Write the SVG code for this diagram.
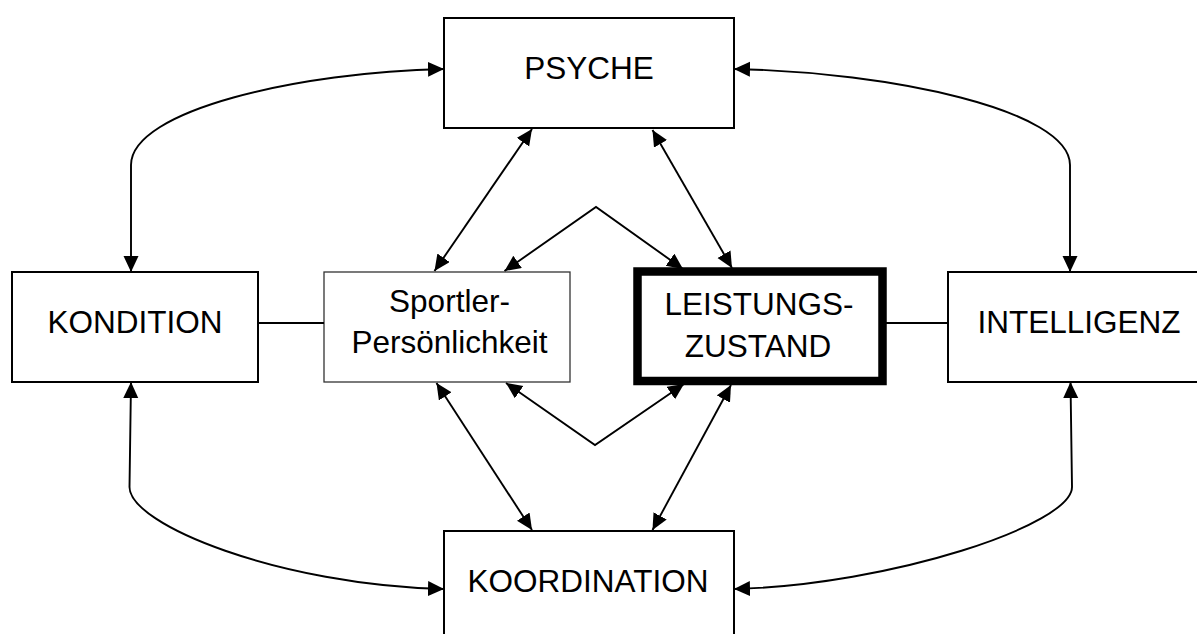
<svg xmlns="http://www.w3.org/2000/svg" width="1197" height="634" viewBox="0 0 1197 634">
  <style>
    .box { fill: #fff; stroke: #000; stroke-width: 2; }
    .thin { fill: #fff; stroke: #333; stroke-width: 1.3; }
    .bold { fill: #fff; stroke: #000; stroke-width: 8.5; }
    .lbl { font-family: "Liberation Sans", Arial, sans-serif; font-size: 31.5px; fill: #000; text-anchor: middle; }
    .link { fill: none; stroke: #000; stroke-width: 1.9; }
    .arr { marker-start: url(#head); marker-end: url(#head); }
  </style>
  <defs>
    <marker id="head" markerUnits="userSpaceOnUse" markerWidth="17" markerHeight="16" refX="16" refY="7.5" orient="auto-start-reverse">
      <path d="M0,0 L16,7.5 L0,15 z" fill="#000"/>
    </marker>
  </defs>

  <g id="psyche">
    <rect class="box" x="444" y="18" width="290" height="110"/>
    <text class="lbl" x="589" y="79">PSYCHE</text>
  </g>
  <g id="kondition">
    <rect class="box" x="12" y="272" width="246" height="110"/>
    <text class="lbl" x="135" y="333">KONDITION</text>
  </g>
  <g id="sportler">
    <rect class="thin" x="324" y="272" width="246" height="110"/>
    <text class="lbl" x="449.5" y="311.5">Sportler-</text>
    <text class="lbl" x="449.5" y="353">Persönlichkeit</text>
  </g>
  <g id="leistungszustand">
    <rect class="bold" x="637.5" y="271.5" width="245" height="109.5"/>
    <text class="lbl" x="759" y="315">LEISTUNGS-</text>
    <text class="lbl" x="758" y="356.5">ZUSTAND</text>
  </g>
  <g id="intelligenz">
    <rect class="box" x="948" y="272" width="262" height="110"/>
    <text class="lbl" x="1079" y="333">INTELLIGENZ</text>
  </g>
  <g id="koordination">
    <rect class="box" x="444" y="531" width="290" height="110"/>
    <text class="lbl" x="588" y="592">KOORDINATION</text>
  </g>

  <g id="connectors">
    <!-- plain horizontal links -->
    <line class="link" x1="258" y1="323" x2="324" y2="323"/>
    <line class="link" x1="886" y1="323" x2="948" y2="323"/>
    <!-- outer curved links -->
    <path class="link arr" d="M444,69 C300,72 131,110 131,165 L131,272"/>
    <path class="link arr" d="M734,69 C890,72 1070,110 1070,165 L1070,272"/>
    <path class="link arr" d="M131,382 L129.5,487 C129.5,525 280,585 444,589"/>
    <path class="link arr" d="M1070.5,382 L1072,487 C1072,525 890,585 734,589"/>
    <!-- diagonals -->
    <path class="link arr" d="M532,129 L434.5,271"/>
    <path class="link arr" d="M652.5,130 L732,268"/>
    <path class="link arr" d="M436.5,383 L532,530"/>
    <path class="link arr" d="M731,385 L652.5,530"/>
    <!-- zigzags between the two central boxes -->
    <path class="link arr" d="M504.5,271 L596,207 L683,269"/>
    <path class="link arr" d="M506,383 L595,445 L684,384"/>
  </g>
</svg>
